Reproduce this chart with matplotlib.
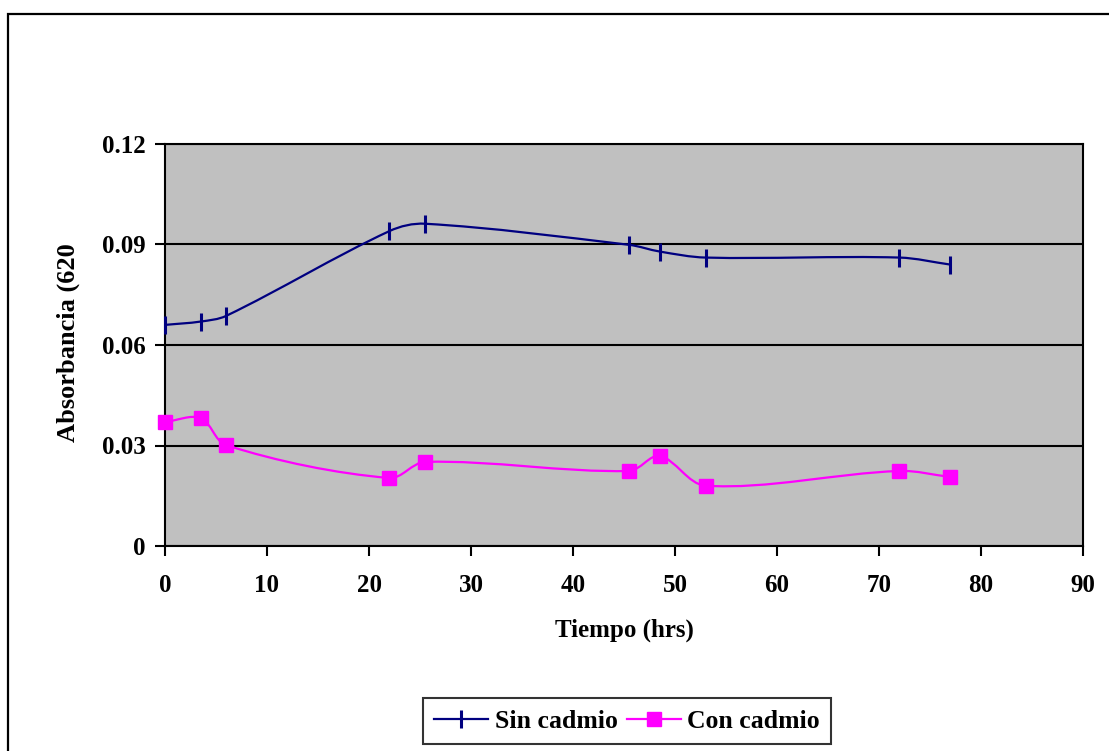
import numpy as np
import matplotlib
matplotlib.use('Agg')
import matplotlib.pyplot as plt
from matplotlib.path import Path
from matplotlib.patches import PathPatch, Rectangle
from matplotlib.lines import Line2D

# data
tiempo = [0, 3.5, 6, 22, 25.5, 45.5, 48.5, 53, 72, 77]
sin_cadmio = [0.066, 0.067, 0.0687, 0.094, 0.0962, 0.0899, 0.0879, 0.0861, 0.0861, 0.0840]
con_cadmio = [0.0370, 0.0382, 0.0301, 0.0203, 0.0251, 0.0224, 0.0269, 0.0180, 0.0224, 0.0206]
xticks = [0, 10, 20, 30, 40, 50, 60, 70, 80, 90]
yticks = [0, 0.03, 0.06, 0.09, 0.12]
ytick_labels = ['0', '0.03', '0.06', '0.09', '0.12']

plt.rcParams['font.family'] = ['Liberation Serif', 'DejaVu Serif']
plt.rcParams['font.weight'] = 'bold'
FS = 18


def smooth_path(x, y, sx=10.2, sy=3350.0):
    # smoothed line through the points, tangents scaled by chord length
    p = np.column_stack([x, y])
    scale = np.array([sx, sy])
    q = p * scale
    n = len(p)
    seg = np.linalg.norm(np.diff(q, axis=0), axis=1)
    verts = [p[0]]
    codes = [Path.MOVETO]
    for i in range(n - 1):
        if i == 0:
            t1 = (q[1] - q[0]) / 3
        else:
            d = q[i + 1] - q[i - 1]
            t1 = d * seg[i] / (3 * (seg[i - 1] + seg[i]))
        if i + 1 == n - 1:
            t2 = (q[i + 1] - q[i]) / 3
        else:
            d = q[i + 2] - q[i]
            t2 = d * seg[i] / (3 * (seg[i] + seg[i + 1]))
        c1 = (q[i] + t1) / scale
        c2 = (q[i + 1] - t2) / scale
        verts += [c1, c2, p[i + 1]]
        codes += [Path.CURVE4] * 3
    return Path(verts, codes)


fig = plt.figure(figsize=(11.09, 7.51), dpi=100)
ax = fig.add_axes([165 / 1109, 1 - 546 / 751, (1083 - 165) / 1109, (546 - 144) / 751])
ax.set_facecolor('#c0c0c0')

# outer chart border
fig.patches.append(Rectangle((8 / 1109, -0.05), 1.2, 1 - 14 / 751 + 0.05,
                             transform=fig.transFigure, fill=False,
                             edgecolor='black', linewidth=1.6, zorder=0))

ax.add_patch(PathPatch(smooth_path(tiempo, sin_cadmio), fill=False,
                       edgecolor='#000080', linewidth=1.6, zorder=3))
ax.add_patch(PathPatch(smooth_path(tiempo, con_cadmio), fill=False,
                       edgecolor='#ff00ff', linewidth=1.6, zorder=3))
ax.plot(tiempo, sin_cadmio, linestyle='none', marker='|', markersize=13,
        markeredgewidth=2.2, color='#000080', zorder=4, clip_on=False)
ax.plot(tiempo, con_cadmio, linestyle='none', marker='s', markersize=10,
        color='#ff00ff', zorder=4, clip_on=False)

ax.set_xlim(0, 90)
ax.set_ylim(0, 0.12)
ax.set_xticks(xticks)
ax.set_yticks(yticks)
ax.set_yticklabels(ytick_labels)
ax.tick_params(labelsize=FS, length=7, width=1.5)
ax.tick_params(axis='x', pad=13)
ax.tick_params(axis='y', pad=7)
for lbl in ax.get_xticklabels() + ax.get_yticklabels():
    lbl.set_fontweight('bold')
ax.grid(axis='y', color='black', linewidth=1.5)
ax.set_axisbelow(True)
for s in ax.spines.values():
    s.set_linewidth(1.5)

ax.set_xlabel('Tiempo (hrs)', fontsize=FS, fontweight='bold', labelpad=16)
fig.text(68 / 1109, 1 - 343 / 751, 'Absorbancia (620', rotation=90,
         ha='center', va='center', fontsize=19, fontweight='bold')

handles = [Line2D([], [], color='#000080', marker='|', markersize=13,
                  markeredgewidth=2.2, linewidth=1.6),
           Line2D([], [], color='#ff00ff', marker='s', markersize=10,
                  linewidth=1.6)]
leg = fig.legend(handles, ['Sin cadmio', 'Con cadmio'], loc='center',
                 bbox_to_anchor=(627 / 1109, 1 - 721 / 751), ncol=2,
                 frameon=True, fancybox=False,
                 handlelength=2.1, handletextpad=0.25, columnspacing=0.35,
                 borderpad=0.45, borderaxespad=0, prop={'weight': 'bold', 'size': 18.5})
leg.get_frame().set_edgecolor('black')
leg.get_frame().set_linewidth(1.5)

plt.savefig('out.png', dpi=100)
plt.close('all')
